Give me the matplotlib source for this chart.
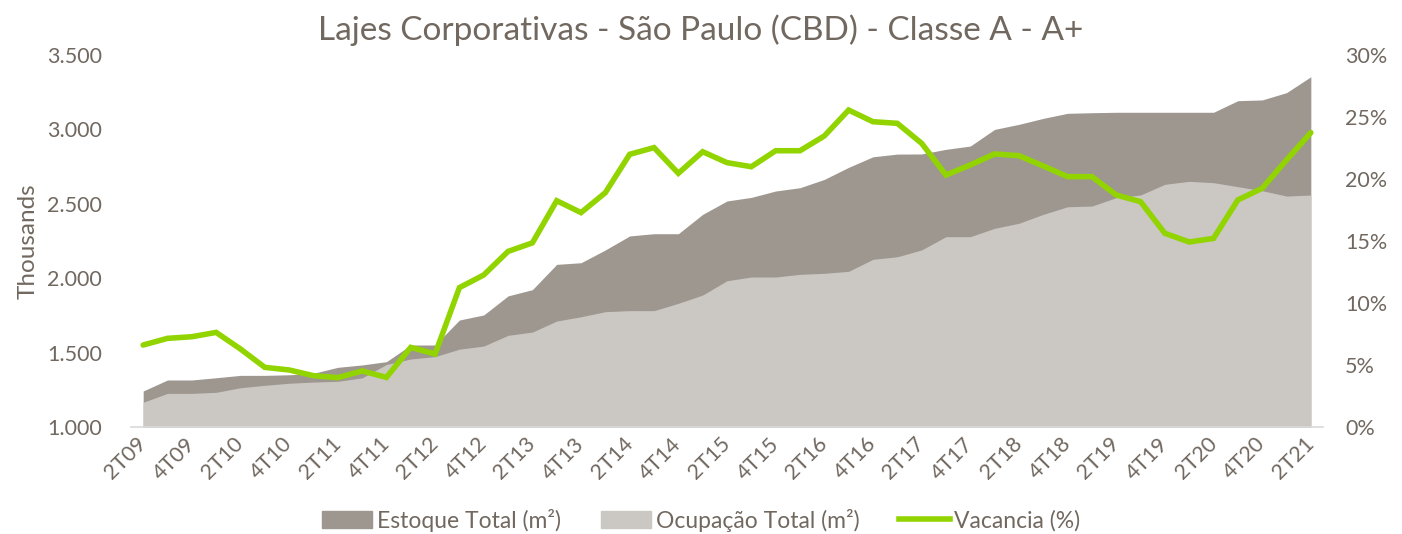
import matplotlib
matplotlib.use("Agg")
import matplotlib.pyplot as plt
from matplotlib.ticker import FuncFormatter, MultipleLocator
from matplotlib.patches import Patch
from matplotlib.lines import Line2D

quarters = []
for yr in range(9, 22):
    for q in range(1, 5):
        quarters.append(f"{q}T{yr:02d}")
quarters = quarters[1:50]  # 2T09 .. 2T21

estoque = [1242, 1316, 1316, 1331, 1347, 1347, 1351, 1361, 1401, 1417,
           1439, 1551, 1551, 1719, 1753, 1881, 1923, 2093, 2104, 2190,
           2284, 2299, 2299, 2429, 2519, 2543, 2586, 2608, 2664, 2745,
           2816, 2834, 2835, 2866, 2888, 3000, 3034, 3074, 3108, 3112,
           3115, 3115, 3115, 3115, 3115, 3193, 3198, 3247, 3354]

ocupacao = [1166, 1226, 1226, 1233, 1264, 1280, 1294, 1302, 1307, 1330,
            1420, 1457, 1473, 1523, 1544, 1616, 1638, 1712, 1741, 1775,
            1782, 1782, 1831, 1887, 1983, 2008, 2008, 2026, 2033, 2046,
            2127, 2144, 2190, 2279, 2279, 2335, 2369, 2429, 2480, 2485,
            2541, 2559, 2631, 2651, 2642, 2615, 2588, 2552, 2559]

vacancia = [6.61, 7.15, 7.28, 7.63, 6.29, 4.81, 4.60, 4.14, 3.98, 4.52,
            4.00, 6.42, 5.89, 11.24, 12.26, 14.16, 14.85, 18.25, 17.29, 18.90,
            21.99, 22.53, 20.46, 22.20, 21.32, 20.99, 22.28, 22.28, 23.47, 25.56,
            24.62, 24.49, 22.88, 20.32, 21.13, 22.02, 21.88, 21.05, 20.19, 20.19,
            18.71, 18.17, 15.62, 14.92, 15.21, 18.31, 19.25, 21.53, 23.74]

title = "Lajes Corporativas - São Paulo (CBD) - Classe A - A+"

TXT = "#716860"
DARK = "#9e9790"
LIGHT = "#cbc7c3"
GREEN = "#92d400"

plt.rcParams['font.family'] = ['Lato', 'DejaVu Sans']

W, H = 1402, 534
fig = plt.figure(figsize=(W / 100, H / 100), dpi=100)
ax = fig.add_axes([131 / W, (H - 427) / H, (1323 - 131) / W, (427 - 55) / H])
ax2 = ax.twinx()

x = list(range(len(quarters)))
ax.fill_between(x, 1000, estoque, color=DARK, linewidth=0, label="Estoque Total (m²)")
ax.fill_between(x, 1000, ocupacao, color=LIGHT, linewidth=0, label="Ocupação Total (m²)")
ax2.plot(x, [v / 100 for v in vacancia], color=GREEN, linewidth=4.0,
         solid_joinstyle='miter', solid_capstyle='round')

ax.set_xlim(-0.5, len(quarters) - 0.5)
ax.set_ylim(1000, 3500)
ax2.set_ylim(0, 0.30)

ax.yaxis.set_major_locator(MultipleLocator(500))
ax.yaxis.set_major_formatter(FuncFormatter(lambda v, p: f"{v/1000:.3f}"))
ax2.yaxis.set_major_locator(MultipleLocator(0.05))
ax2.yaxis.set_major_formatter(FuncFormatter(lambda v, p: f"{v*100:.0f}%"))

ax.set_xticks(x[::2])
ax.set_xticklabels(quarters[::2], rotation=45, ha='right', va='center',
                   rotation_mode='anchor')

for a in (ax, ax2):
    for s in a.spines.values():
        s.set_visible(False)
    a.tick_params(length=0, colors=TXT, labelsize=15.5)
ax.spines['bottom'].set_visible(True)
ax.spines['bottom'].set_color("#d9d9d9")
ax.spines['bottom'].set_linewidth(1.2)
ax.tick_params(axis='y', pad=21)
ax2.tick_params(axis='y', pad=16)
ax.tick_params(axis='x', pad=10)

ax.set_ylabel("Thousands", color=TXT, fontsize=17.5, labelpad=6)
fig.text(0.5, (H - 30) / H, title, ha='center', va='center', fontsize=24, color=TXT)

handles = [Patch(color=DARK, label="Estoque Total (m²)"),
           Patch(color=LIGHT, label="Ocupação Total (m²)"),
           Line2D([0], [0], color=GREEN, linewidth=4.0, label="Vacancia (%)")]
leg = fig.legend(handles=handles, loc='center', bbox_to_anchor=(0.5, (H - 520) / H),
                 ncol=3, frameon=False, fontsize=16.5, handlelength=2.2,
                 handleheight=0.74, columnspacing=1.75, handletextpad=0.2)
for t in leg.get_texts():
    t.set_color(TXT)

fig.savefig("out.png", dpi=100)
